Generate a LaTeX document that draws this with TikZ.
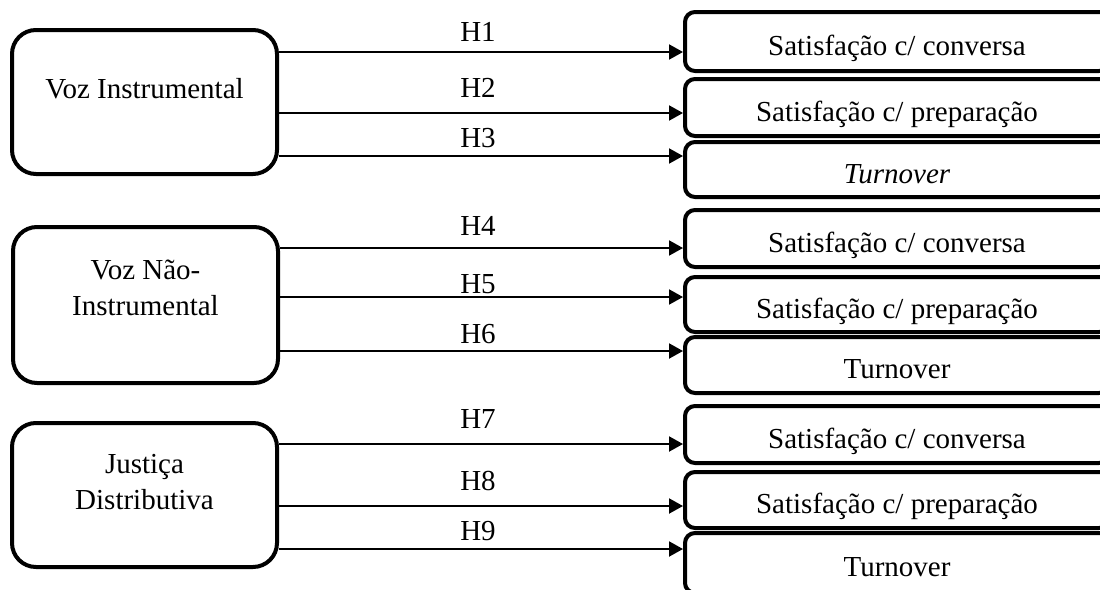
\documentclass[tikz,border=0pt]{standalone}
\usepackage{fontspec}
\setmainfont{Liberation Serif}
\usetikzlibrary{arrows.meta}
\begin{document}
\begin{tikzpicture}[x=1pt,y=-1pt,
  every node/.style={font=\fontsize{29}{36}\selectfont, inner sep=0pt},
  srcbox/.style={draw, line width=4pt, rounded corners=24pt,
    minimum width=265pt},
  srctext/.style={align=center},
  tgtbox/.style={draw, line width=4pt, rounded corners=10pt,
    minimum width=424pt, text height=31pt, text depth=4pt},
  hyp/.style={draw, line width=2pt, -{Triangle[length=14pt,width=15pt]}},
  hlabel/.style={anchor=base}]

% page
\useasboundingbox (0,0) rectangle (1100,589);
\clip (0,0) rectangle (1100,589);
\fill[white] (0,0) rectangle (1100,589);

% independent variables
\node[srcbox, minimum height=144pt] (vi)  at (144.5,102) {};
\node[srctext] (vit) at (144.5,90.8) {\strut Voz Instrumental};
\node[srcbox, minimum height=156pt] (vni) at (145.5,305) {};
\node[srctext] (vnit) at (145.5,290.3) {\strut Voz Não-\\\strut Instrumental};
\node[srcbox, minimum height=144pt] (jd)  at (144.5,495) {};
\node[srctext] (jdt) at (144.5,483.8) {\strut Justiça\\\strut Distributiva};

% outcomes
\node[tgtbox, minimum height=59pt] (c1) at (897,41.5)  {Satisfação c/ conversa};
\node[tgtbox, minimum height=57pt] (p1) at (897,107.5) {Satisfação c/ preparação};
\node[tgtbox, minimum height=55pt] (t1) at (897,169.5) {\itshape Turnover};
\node[tgtbox, minimum height=57pt] (c2) at (897,238.5) {Satisfação c/ conversa};
\node[tgtbox, minimum height=55pt] (p2) at (897,304.5) {Satisfação c/ preparação};
\node[tgtbox, minimum height=56pt] (t2) at (897,365)   {Turnover};
\node[tgtbox, minimum height=57pt] (c3) at (897,434.5) {Satisfação c/ conversa};
\node[tgtbox, minimum height=56pt] (p3) at (897,500)   {Satisfação c/ preparação};
\node[tgtbox, minimum height=60pt] (t3) at (897,563)   {Turnover};

% arrow heights
\coordinate (y1) at (0,52);
\coordinate (y2) at (0,113);
\coordinate (y3) at (0,156);
\coordinate (y4) at (0,248);
\coordinate (y5) at (0,297);
\coordinate (y6) at (0,351);
\coordinate (y7) at (0,444);
\coordinate (y8) at (0,506);
\coordinate (y9) at (0,549);

% hypotheses
\draw[hyp] (vi.east |- y1) -- (c1.west |- y1);
\draw[hyp] (vi.east |- y2) -- (p1.west |- y2);
\draw[hyp] (vi.east |- y3) -- (t1.west |- y3);
\draw[hyp] (vni.east |- y4) -- (c2.west |- y4);
\draw[hyp] (vni.east |- y5) -- (p2.west |- y5);
\draw[hyp] (vni.east |- y6) -- (t2.west |- y6);
\draw[hyp] (jd.east |- y7) -- (c3.west |- y7);
\draw[hyp] (jd.east |- y8) -- (p3.west |- y8);
\draw[hyp] (jd.east |- y9) -- (t3.west |- y9);

% hypothesis labels
\node[hlabel] (h1) at (478,41)  {H1};
\node[hlabel] (h2) at (478,97)  {H2};
\node[hlabel] (h3) at (478,147) {H3};
\node[hlabel] (h4) at (478,235) {H4};
\node[hlabel] (h5) at (478,293) {H5};
\node[hlabel] (h6) at (478,343) {H6};
\node[hlabel] (h7) at (478,428) {H7};
\node[hlabel] (h8) at (478,490) {H8};
\node[hlabel] (h9) at (478,540) {H9};
\end{tikzpicture}
\end{document}
